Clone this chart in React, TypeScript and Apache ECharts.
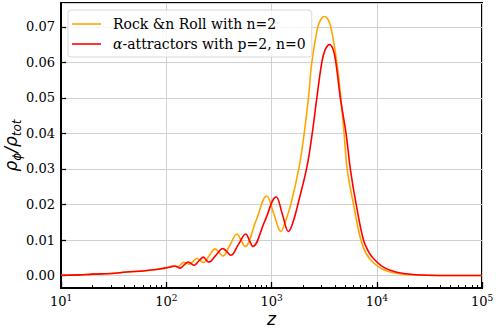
import React, { useEffect, useRef } from 'react';
import * as echarts from 'echarts';

const rockName = 'Rock &n Roll with n=2';
const alphaName = 'α-attractors with p=2, n=0';

const rockZ = [10, 15, 20, 30, 42, 60, 80, 97, 105, 113, 120, 128, 137, 146, 155, 165, 180, 195, 210, 225, 256, 291, 318, 345, 403, 470, 513, 560, 710, 900, 1052, 1230, 1346, 1525, 1830, 2041, 2243, 2416, 2755, 2962, 3184, 3422, 3661, 4176, 4557, 4899, 5250, 6010, 7060, 8000, 9300, 11000, 13400, 18000, 30000, 100000];
const rockV = [0.0001, 0.0002, 0.0004, 0.0006, 0.0010, 0.0013, 0.0017, 0.0021, 0.0024, 0.0027, 0.0026, 0.0025, 0.0031, 0.0037, 0.0035, 0.0032, 0.0040, 0.0048, 0.0043, 0.0037, 0.0056, 0.0075, 0.0065, 0.0055, 0.0086, 0.0117, 0.0100, 0.0082, 0.0153, 0.0224, 0.0174, 0.0124, 0.0150, 0.0200, 0.0306, 0.0398, 0.0500, 0.0600, 0.0700, 0.0722, 0.0729, 0.0722, 0.0700, 0.0600, 0.0500, 0.0398, 0.0297, 0.0201, 0.0100, 0.0060, 0.0036, 0.0020, 0.0010, 0.0004, 0.0001, 0.0];

const alphaZ = [10, 15, 20, 30, 42, 60, 80, 97, 110, 121, 128, 135, 148, 162, 172, 183, 204, 226, 238, 253, 296, 345, 377, 410, 484, 570, 615, 665, 860, 1107, 1270, 1450, 1600, 1780, 2170, 2432, 2696, 3007, 3232, 3552, 3851, 4086, 4508, 5119, 5630, 6370, 7480, 8400, 9310, 11000, 13400, 18000, 30000, 100000];
const alphaV = [0.0001, 0.0002, 0.0004, 0.0006, 0.0010, 0.0013, 0.0017, 0.0021, 0.0024, 0.0027, 0.0024, 0.0021, 0.0030, 0.0038, 0.0034, 0.0029, 0.0041, 0.0052, 0.0045, 0.0038, 0.0057, 0.0076, 0.0067, 0.0057, 0.0087, 0.0117, 0.0100, 0.0082, 0.0152, 0.0221, 0.0172, 0.0124, 0.0150, 0.0200, 0.0306, 0.0398, 0.0500, 0.0600, 0.0635, 0.0650, 0.0636, 0.0600, 0.0500, 0.0398, 0.0297, 0.0201, 0.0100, 0.0066, 0.0048, 0.0028, 0.0015, 0.0006, 0.0001, 0.0];

const xMin = 10;
const xMax = 100000;
const yMin = -0.0035;
const yMax = 0.0767;
const minorMultipliers = [2, 3, 4, 5, 6, 7, 8, 9];
const decades = [10, 100, 1000, 10000];

export default function App() {
  const ref = useRef<HTMLDivElement>(null);
  useEffect(() => {
    const chart = echarts.init(ref.current!, null, { renderer: 'svg' });
    const minorTicks: number[] = [];
    decades.forEach((d) => minorMultipliers.forEach((k) => minorTicks.push(Math.log10(k * d))));
    const serif = 'DejaVu Serif';
    chart.setOption({
      animation: false,
      backgroundColor: '#fff',
      grid: {
        left: 61,
        right: 16,
        top: 3,
        bottom: 42,
        show: true,
        borderColor: '#000',
        borderWidth: 2,
        backgroundColor: 'transparent',
        containLabel: false,
        outerBoundsMode: 'none',
      },
      legend: {
        left: 68,
        top: 10,
        orient: 'vertical',
        padding: [7, 6, 6, 4],
        itemGap: 6,
        itemWidth: 29,
        itemHeight: 1.6,
        icon: 'rect',
        borderColor: '#d8d8d8',
        borderWidth: 1,
        borderRadius: 3,
        backgroundColor: 'rgba(255,255,255,0.8)',
        textStyle: {
          fontFamily: serif,
          fontSize: 14,
          color: '#000',
          padding: [0, 0, 0, 7],
          rich: {
            i: { fontFamily: serif, fontStyle: 'italic', fontSize: 14, color: '#000' },
            t: { fontFamily: serif, fontSize: 14, color: '#000' },
          },
        },
        formatter: (name: string) =>
          name === alphaName ? '{i|α}{t|-attractors with p=2, n=0}' : '{t|' + name + '}',
        data: [rockName, alphaName],
      },
      xAxis: [
        {
          type: 'log',
          logBase: 10,
          min: xMin,
          max: xMax,
          name: 'z',
          nameLocation: 'middle',
          nameGap: 22,
          nameMoveOverlap: false,
          nameTextStyle: { fontFamily: 'DejaVu Sans', fontStyle: 'italic', fontSize: 17, color: '#000' },
          axisLine: { show: true, onZero: false, lineStyle: { color: '#000', width: 2 } },
          axisTick: { show: true, inside: true, length: 6, lineStyle: { color: '#000', width: 1.3 } },
          axisLabel: {
            margin: 5,
            color: '#000',
            formatter: (v: number) => '{b|10}{s|' + Math.round(Math.log10(v)) + '}',
            rich: {
              b: { fontFamily: serif, fontSize: 13, lineHeight: 16, color: '#000' },
              s: { fontFamily: serif, fontSize: 9, lineHeight: 8, verticalAlign: 'top', color: '#000' },
            },
          },
          splitLine: { show: true, lineStyle: { color: '#d0d0d0', width: 1 } },
        },
        {
          type: 'value',
          min: 1,
          max: 5,
          position: 'bottom',
          axisLine: { show: false, onZero: false },
          axisLabel: { show: false },
          splitLine: { show: false },
          axisTick: { show: true, inside: true, length: 3, customValues: minorTicks, lineStyle: { color: '#000', width: 1 } },
        },
      ],
      yAxis: {
        type: 'value',
        min: yMin,
        max: yMax,
        splitNumber: 8,
        name: '{m|ρ}{s|ϕ}{m|/ρ}{s|tot}',
        nameLocation: 'middle',
        nameRotate: 90,
        nameGap: 38,
        nameMoveOverlap: false,
        nameTextStyle: {
          color: '#000',
          rich: {
            m: { fontFamily: 'DejaVu Sans', fontStyle: 'italic', fontSize: 17, lineHeight: 24, color: '#000' },
            s: { fontFamily: 'DejaVu Sans', fontStyle: 'italic', fontSize: 12, lineHeight: 12, verticalAlign: 'bottom', color: '#000' },
          },
        },
        axisLine: { show: true, onZero: false, lineStyle: { color: '#000', width: 2 } },
        axisTick: { show: true, inside: true, length: 5, lineStyle: { color: '#000', width: 1.3 } },
        axisLabel: {
          margin: 6,
          showMinLabel: false,
          showMaxLabel: false,
          fontFamily: serif,
          fontSize: 13,
          color: '#000',
          formatter: (v: number) => v.toFixed(2),
        },
        splitLine: { show: true, lineStyle: { color: '#d0d0d0', width: 1 } },
      },
      series: [
        {
          name: rockName,
          type: 'line',
          xAxisIndex: 0,
          data: rockZ.map((z, i) => [z, rockV[i]]),
          showSymbol: false,
          smooth: 0.4,
          lineStyle: { color: '#FFA500', width: 1.6 },
          itemStyle: { color: '#FFA500' },
          z: 3,
        },
        {
          name: alphaName,
          type: 'line',
          xAxisIndex: 0,
          data: alphaZ.map((z, i) => [z, alphaV[i]]),
          showSymbol: false,
          smooth: 0.4,
          lineStyle: { color: '#FF0000', width: 1.6 },
          itemStyle: { color: '#FF0000' },
          z: 4,
        },
      ],
    });
    return () => chart.dispose();
  }, []);
  return <div ref={ref} style={{ position: 'fixed', left: 0, top: 0, width: 498, height: 330 }} />;
}
